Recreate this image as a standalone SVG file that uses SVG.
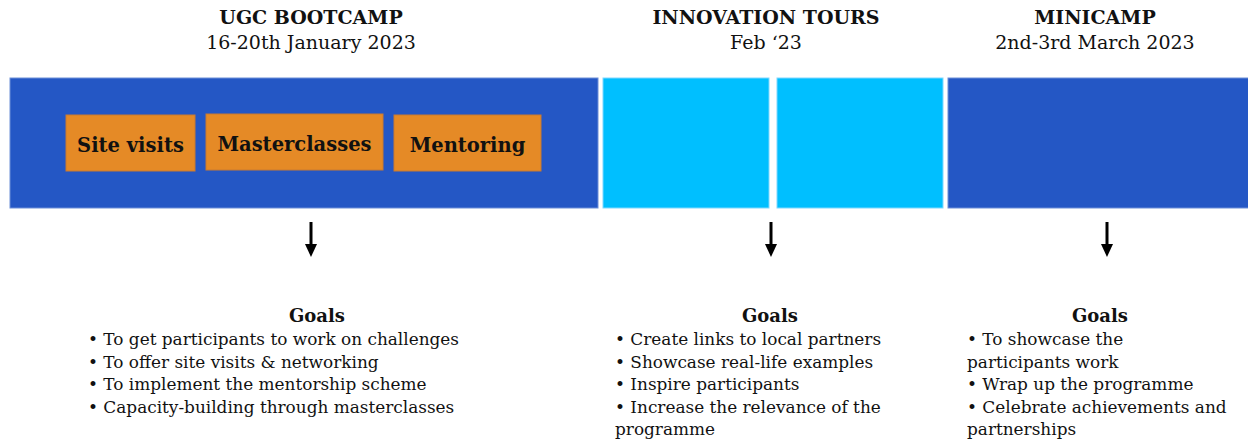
<svg xmlns="http://www.w3.org/2000/svg" width="1248" height="441" viewBox="0 0 1248 441">
<defs>
<style>
.t{font-family:"DejaVu Serif","Liberation Serif",serif;fill:#111;}
.h{font-size:19px;font-weight:bold;text-anchor:middle;}
.s{font-size:19px;text-anchor:middle;}
.b{font-size:19.5px;font-weight:bold;text-anchor:middle;}
.g{font-size:18px;font-weight:bold;text-anchor:middle;}
.l{font-size:16.9px;}
.dark{fill:#2457C5;stroke:#6d8fd8;stroke-width:1;}
.cyan{fill:#00BFFF;stroke:#7fd8ff;stroke-width:1;}
.or{fill:#E58A26;stroke:#c97a30;stroke-width:1;}
.arr{stroke:#000;stroke-width:3;fill:none;}
</style>
<marker id="ah" markerWidth="13" markerHeight="13" refX="1" refY="6" orient="auto" markerUnits="userSpaceOnUse" viewBox="0 0 13 12">
<path d="M0,0 L13,6 L0,12 Z" fill="#000"/>
</marker>
</defs>
<rect width="1248" height="441" fill="#fff"/>
<g id="bootcamp">
<text class="t h" x="311" y="24">UGC BOOTCAMP</text>
<text class="t s" x="311" y="49">16-20th January 2023</text>
<rect class="dark" x="10" y="78" width="588" height="130"/>
</g>
<g id="site-visits"><rect class="or" x="66" y="115" width="129" height="56"/><text class="t b" x="130.5" y="152">Site visits</text></g>
<g id="masterclasses"><rect class="or" x="206" y="114" width="177" height="56"/><text class="t b" x="294.5" y="151">Masterclasses</text></g>
<g id="mentoring"><rect class="or" x="394" y="115" width="147" height="56"/><text class="t b" x="467.5" y="152">Mentoring</text></g>
<g id="innovation-tours">
<text class="t h" x="766" y="24">INNOVATION TOURS</text>
<text class="t s" x="766" y="49">Feb ‘23</text>
<rect class="cyan" x="603" y="78" width="166" height="130"/>
<rect class="cyan" x="777" y="78" width="166" height="130"/>
</g>
<g id="minicamp">
<text class="t h" x="1095" y="24">MINICAMP</text>
<text class="t s" x="1095" y="49">2nd-3rd March 2023</text>
<rect class="dark" x="948" y="78" width="302" height="130"/>
</g>
<g id="connectors">
<line class="arr" x1="311" y1="222" x2="311" y2="245" marker-end="url(#ah)"/>
<line class="arr" x1="771" y1="222" x2="771" y2="245" marker-end="url(#ah)"/>
<line class="arr" x1="1107" y1="222" x2="1107" y2="245" marker-end="url(#ah)"/>
</g>
<g id="goals-bootcamp">
<text class="t g" x="317" y="322">Goals</text>
<text class="t l"><tspan x="88" y="345">• To get participants to work on challenges</tspan><tspan x="88" y="367.5">• To offer site visits &amp; networking</tspan><tspan x="88" y="390">• To implement the mentorship scheme</tspan><tspan x="88" y="412.5">• Capacity-building through masterclasses</tspan></text>
</g>
<g id="goals-tours">
<text class="t g" x="770" y="322">Goals</text>
<text class="t l"><tspan x="615" y="345">• Create links to local partners</tspan><tspan x="615" y="367.5">• Showcase real-life examples</tspan><tspan x="615" y="390">• Inspire participants</tspan><tspan x="615" y="412.5">• Increase the relevance of the</tspan><tspan x="615" y="435">programme</tspan></text>
</g>
<g id="goals-minicamp">
<text class="t g" x="1100" y="322">Goals</text>
<text class="t l"><tspan x="967" y="345">• To showcase the</tspan><tspan x="967" y="367.5">participants work</tspan><tspan x="967" y="390">• Wrap up the programme</tspan><tspan x="967" y="412.5">• Celebrate achievements and</tspan><tspan x="967" y="435">partnerships</tspan></text>
</g>
</svg>
